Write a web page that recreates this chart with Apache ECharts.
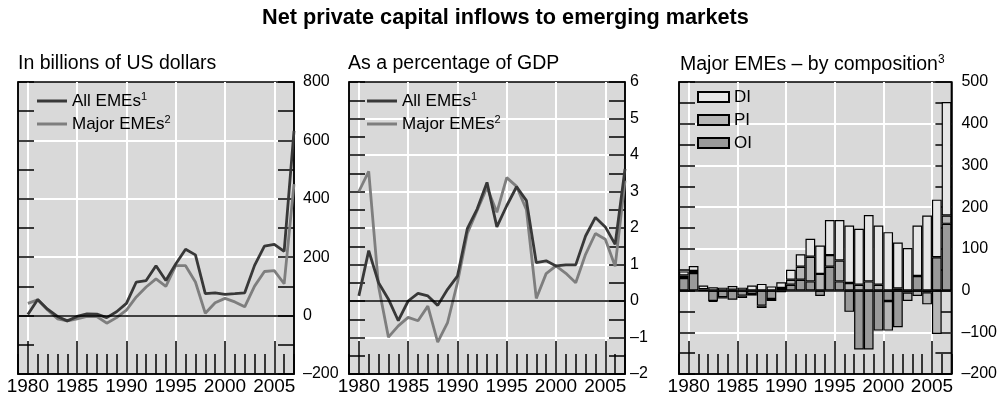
<!DOCTYPE html>
<html>
<head>
<meta charset="utf-8">
<script src="https://cdn.jsdelivr.net/npm/echarts@6.0.0/dist/echarts.min.js"></script>
<style>
html,body{margin:0;padding:0;background:#fff;}
#chart{width:1000px;height:396px;}
</style>
</head>
<body>
<div id="chart"></div>
<script>
// ---- Data ----
const years = [1980,1981,1982,1983,1984,1985,1986,1987,1988,1989,1990,1991,1992,1993,1994,1995,1996,1997,1998,1999,2000,2001,2002,2003,2004,2005,2006,2007];
const xTickYears = [1980,1985,1990,1995,2000,2005];

// Panel 1: in billions of US dollars
const allEMEsUSD   = [4,55,22,-3,-18,-3,6,5,-7,13,42,115,120,171,120,177,227,208,75,78,73,75,78,172,238,244,220,633];
const majorEMEsUSD = [42,54,19,-11,-18,-11,-3,-3,-26,-7,19,64,98,126,100,171,171,115,8,44,59,47,30,101,151,154,109,450];

// Panel 2: as a percentage of GDP
const allEMEsGDP   = [0.14,1.38,0.5,0.05,-0.54,0.0,0.21,0.14,-0.12,0.32,0.68,1.98,2.52,3.25,2.03,2.61,3.13,2.75,1.05,1.1,0.96,0.99,0.99,1.78,2.29,2.03,1.55,3.62];
const majorEMEsGDP = [3.0,3.55,0.4,-0.99,-0.68,-0.45,-0.54,-0.14,-1.13,-0.59,0.5,1.85,2.48,3.11,2.43,3.38,3.14,2.5,0.07,0.75,0.96,0.76,0.5,1.28,1.85,1.69,0.95,3.3];

// Panel 3: Major EMEs by composition (billions of US dollars)
const oiValues = [30,42,0,-25,-16,-22,-12,-8,-36,-20,6,14,26,22,-13,57,22,-51,-141,-141,-96,-25,-88,-5,35,-4,80,160];
const piValues = [6,5,3,-2,-3,2,-6,-4,-6,-5,-4,12,31,59,40,28,50,18,14,22,14,-71,5,-20,-13,-29,-104,20];
const diValues = [10,12,9,8,7,9,7,12,16,10,14,24,30,43,68,84,97,138,134,159,142,140,110,102,121,180,138,272];

// ---- Chart ----
const FONT = 'Liberation Sans, Arial, sans-serif';
const chart = echarts.init(document.getElementById('chart'), null, {renderer:'canvas'});

const grids = [
  {left:18,  top:82, width:276, height:296},
  {left:349, top:82, width:276, height:296},
  {left:679, top:82, width:273, height:296}
];
const yRanges = [
  {min:-200, max:800, minor:100, major:200, margin:9},
  {min:-2,   max:6,   minor:0.5, major:1,   margin:5},
  {min:-200, max:500, minor:50,  major:100, margin:10}
];
const black = {color:'#000', width:1.5};
const fmtNeg = v => v < 0 ? '\u2013' + (-v) : String(v);

const xAxes = [];
const yAxes = [];
grids.forEach((g, i) => {
  xAxes.push({
    gridIndex:i, type:'value', position:'bottom', min:1979, max:2007,
    axisLine:{show:true, onZero:false, lineStyle:black},
    axisTick:{show:true, inside:true, length:33, customValues:xTickYears, lineStyle:black},
    axisLabel:{show:true, customValues:xTickYears, margin:3, fontSize:19, color:'#000', fontFamily:FONT, formatter:v=>String(v)},
    splitLine:{show:true, lineStyle:{color:'#fff', width:2}}
  });
  xAxes.push({
    gridIndex:i, type:'value', position:'bottom', min:1979, max:2007, interval:1,
    axisLine:{show:false, onZero:false},
    axisTick:{show:true, inside:true, length:20, lineStyle:black},
    axisLabel:{show:false}, splitLine:{show:false}
  });
  const r = yRanges[i];
  yAxes.push({
    gridIndex:i, type:'value', position:'left', min:r.min, max:r.max, interval:r.minor,
    axisLine:{show:true, onZero:false, lineStyle:black},
    axisTick:{show:true, inside:true, length:16, lineStyle:black},
    axisLabel:{show:false}, splitLine:{show:false}
  });
  yAxes.push({
    gridIndex:i, type:'value', position:'right', min:r.min, max:r.max, interval:r.major,
    axisLine:{show:true, onZero:false, lineStyle:black},
    axisTick:{show:true, inside:true, length:16, lineStyle:black},
    minorTick:{show:true, splitNumber:2, length:16, lineStyle:black},
    axisLabel:{show:true, margin:r.margin, fontSize:16, color:'#000', fontFamily:FONT, formatter:fmtNeg},
    splitLine:{show:true, showMinLine:false, showMaxLine:false, lineStyle:{color:'#fff', width:2}}
  });
});
// hidden category axis for bars in panel 3
xAxes.push({gridIndex:2, type:'category', data:years.map(String), show:false, boundaryGap:true});

const zeroLine = {
  silent:true, symbol:['none','none'], label:{show:false},
  lineStyle:{color:'#000', width:1.5, type:'solid'},
  emphasis:{disabled:true},
  data:[{yAxis:0}]
};
const pairs = arr => years.map((y, i) => [y, arr[i]]);
const DARK = '#383838', GRAY = '#7e7e7e';
const lineSeries = (name, arr, color, xi, yi, withZero) => {
  const s = {
    name, type:'line', xAxisIndex:xi, yAxisIndex:yi, data:pairs(arr),
    showSymbol:false, symbol:'none', color,
    lineStyle:{color, width:2.8}, z:3
  };
  if (withZero) s.markLine = zeroLine;
  return s;
};
const barSeries = (name, arr, color) => ({
  name, type:'bar', xAxisIndex:6, yAxisIndex:5, stack:'comp', data:arr,
  barCategoryGap:'0%', color,
  itemStyle:{color, borderColor:'#000', borderWidth:1.2}
});

const sup = {sup:{fontSize:11, padding:[0,0,9,0], fontFamily:FONT, color:'#000'}};
const legendLines = left => ({
  orient:'vertical', left, top:91, padding:0, icon:'rect', itemWidth:30, itemHeight:3, itemGap:4,
  data:['All EMEs','Major EMEs'], selectedMode:false,
  formatter: n => n === 'All EMEs' ? 'All EMEs{sup|1}' : 'Major EMEs{sup|2}',
  textStyle:{fontSize:17, color:'#000', fontFamily:FONT, lineHeight:18, rich:sup}
});

const option = {
  animation:false,
  backgroundColor:'#fff',
  title:[
    {text:'Net private capital inflows to emerging markets', left:262, top:7, padding:0,
     textStyle:{fontSize:21.7, fontWeight:'bold', color:'#000', fontFamily:FONT}},
    {text:'In billions of US dollars', left:18, top:54, padding:0,
     textStyle:{fontSize:19.5, fontWeight:'normal', color:'#000', fontFamily:FONT}},
    {text:'As a percentage of GDP', left:348, top:54, padding:0,
     textStyle:{fontSize:19.5, fontWeight:'normal', color:'#000', fontFamily:FONT}},
    {text:'Major EMEs \u2013 by composition{sup|3}', left:680, top:54, padding:0,
     textStyle:{fontSize:19.5, fontWeight:'normal', color:'#000', fontFamily:FONT, rich:{sup:{fontSize:12, padding:[0,0,10,0], fontFamily:FONT, color:'#000'}}}}
  ],
  legend:[
    legendLines(37),
    legendLines(367),
    {orient:'vertical', left:697, top:88, padding:0, icon:'rect', itemWidth:31, itemHeight:10, itemGap:5,
     data:['DI','PI','OI'], selectedMode:false,
     textStyle:{fontSize:17, color:'#000', fontFamily:FONT, lineHeight:18}}
  ],
  grid: grids.map(g => Object.assign({show:true, backgroundColor:'#d9d9d9', borderColor:'#000', borderWidth:1.5}, g)),
  xAxis: xAxes,
  yAxis: yAxes,
  series:[
    lineSeries('Major EMEs', majorEMEsUSD, GRAY, 0, 1, true),
    lineSeries('All EMEs', allEMEsUSD, DARK, 0, 1, false),
    lineSeries('Major EMEs', majorEMEsGDP, GRAY, 2, 3, true),
    lineSeries('All EMEs', allEMEsGDP, DARK, 2, 3, false),
    barSeries('OI', oiValues, '#9a9a9a'),
    barSeries('PI', piValues, '#b6b6b6'),
    Object.assign(barSeries('DI', diValues, '#e6e6e6'), {markLine:zeroLine})
  ]
};
chart.setOption(option);
</script>
</body>
</html>
